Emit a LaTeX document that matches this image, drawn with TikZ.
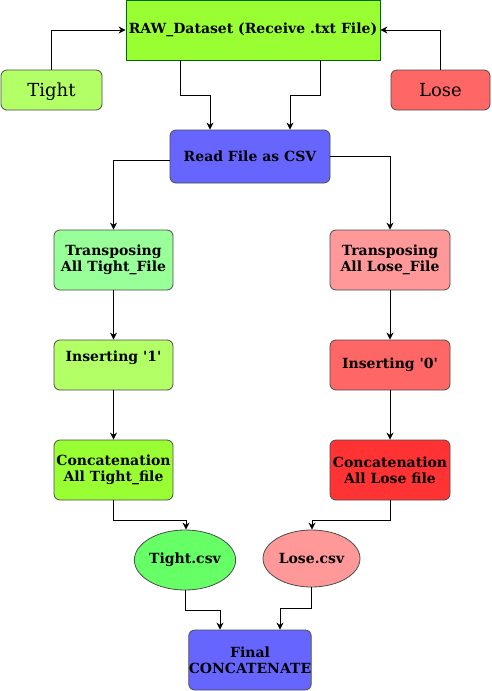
\documentclass[tikz,border=0pt]{standalone}
\usepackage{fontspec}
\setmainfont{DejaVu Serif}[Ligatures=TeXOff]
\usetikzlibrary{arrows.meta,shapes.geometric}
\definecolor{rawg}{HTML}{99FF33}
\definecolor{tightg}{HTML}{B3FF66}
\definecolor{loser}{HTML}{FF6666}
\definecolor{blu}{HTML}{6666FF}
\definecolor{ltg}{HTML}{99FF99}
\definecolor{ltr}{HTML}{FF9999}
\definecolor{dr}{HTML}{FF3333}
\definecolor{csvg}{HTML}{66FF66}
\tikzset{
  box/.style={draw=black!70, rounded corners=6pt, line width=0.8pt, align=center, inner sep=0pt, font=\bfseries\fontsize{14}{16}\selectfont},
  ell/.style={draw=black!70, ellipse, line width=0.8pt, inner sep=0pt, font=\bfseries\fontsize{14}{16}\selectfont},
  src/.style={box, minimum height=40pt, font=\fontsize{18}{20}\selectfont, text height=13pt, text depth=0pt},
  conn/.style={draw=black, line width=1pt, -{Stealth[length=7pt,width=7pt]}},
}
\begin{document}
\begin{tikzpicture}[x=1pt,y=-1pt]
\useasboundingbox (0,0) rectangle (491,691);
\node[draw=green!40!black, fill=rawg, line width=0.8pt, minimum width=254pt, minimum height=60pt, inner sep=0pt, font=\bfseries\fontsize{14}{16}\selectfont] (raw) at (253,30) {RAW\_Dataset (Receive .txt File)};
\node[src, fill=tightg, minimum width=101pt] (tight) at (51.5,90) {Tight};
\node[src, fill=loser, minimum width=99pt] (lose) at (440.5,90) {Lose};
\node[box, fill=blu, minimum width=160pt, minimum height=53pt] (read) at (250,156.5) {Read File as CSV};
\node[box, fill=ltg, minimum width=119pt, minimum height=60pt] (tt) at (113.5,260) {Transposing\\All Tight\_File};
\node[box, fill=ltr, minimum width=120pt, minimum height=60pt] (tl) at (390,260) {Transposing\\All Lose\_File};
\node[box, fill=tightg, minimum width=119pt, minimum height=50pt] (i1) at (113.5,365) {};
\node[font=\bfseries\fontsize{14}{16}\selectfont] (i1t) at (113.5,358) {Inserting '1'};
\node[box, fill=loser, minimum width=120pt, minimum height=50pt] (i0) at (390,365) {Inserting '0'};
\node[box, fill=rawg, minimum width=119pt, minimum height=60pt] (ct) at (113.5,470) {Concatenation\\All Tight\_file};
\node[box, fill=dr, minimum width=120pt, minimum height=60pt] (cl) at (390,470) {Concatenation\\All Lose file};
\node[ell, fill=csvg, minimum width=100pt, minimum height=60pt] (tc) at (185,560) {Tight.csv};
\node[ell, fill=ltr, minimum width=97pt, minimum height=57pt] (lc) at (311.5,558.5) {Lose.csv};
\node[box, fill=blu, minimum width=120pt, minimum height=60pt] (fin) at (250,660) {Final\\CONCATENATE};
% connectors
\draw[conn] (tight.north) |- (raw.west);
\draw[conn] (lose.north) |- (raw.east);
\draw[conn] (raw.south -| 180,0) |- (210,95) -- (read.north -| 210,0);
\draw[conn] (raw.south -| 320,0) |- (290,95) -- (read.north -| 290,0);
\draw[conn] (read.west |- 0,160) -| (tt.north);
\draw[conn] (read.east |- 0,156) -| (tl.north);
\draw[conn] (tt) -- (i1);
\draw[conn] (i1) -- (ct);
\draw[conn] (tl) -- (i0);
\draw[conn] (i0) -- (cl);
\draw[conn] (ct.south) |- (186,520) -- (tc.north -| 186,0);
\draw[conn] (cl.south) |- (312,520) -- (lc.north -| 312,0);
\draw[conn] (tc.south) |- (220,610) -- (fin.north -| 220,0);
\draw[conn] (lc.south) |- (280,608) -- (fin.north -| 280,0);
\end{tikzpicture}
\end{document}
